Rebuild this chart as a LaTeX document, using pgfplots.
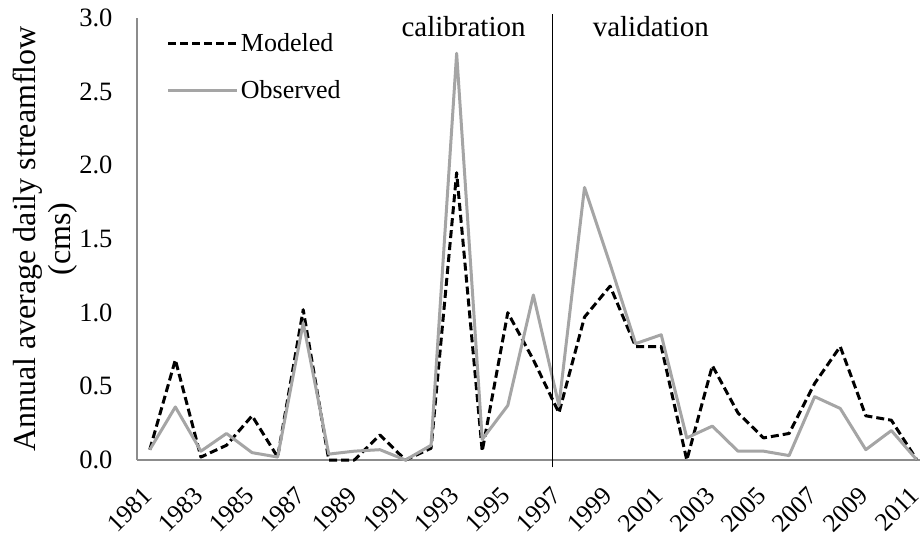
\documentclass[border=0pt]{standalone}
\usepackage{fontspec}
\setmainfont{Liberation Serif}
\usepackage{pgfplots}
\usepackage{pgfplotstable}
\pgfplotsset{compat=1.18}
\definecolor{obsgray}{RGB}{165,165,165}
\definecolor{axgray}{RGB}{140,140,140}
\pgfplotstableread{
year mod obs
1981 0.07 0.07
1982 0.68 0.36
1983 0.02 0.06
1984 0.10 0.18
1985 0.30 0.05
1986 0.02 0.02
1987 1.02 0.93
1988 0.00 0.04
1989 0.00 0.06
1990 0.17 0.07
1991 0.00 0.00
1992 0.08 0.10
1993 1.95 2.76
1994 0.06 0.14
1995 1.00 0.37
1996 0.68 1.12
1997 0.32 0.37
1998 0.97 1.85
1999 1.18 1.33
2000 0.77 0.79
2001 0.77 0.85
2002 0.00 0.15
2003 0.64 0.23
2004 0.32 0.06
2005 0.15 0.06
2006 0.18 0.03
2007 0.52 0.43
2008 0.77 0.35
2009 0.30 0.07
2010 0.27 0.20
2011 0.00 0.00
}\datatable
\begin{document}
\begin{tikzpicture}
\begin{axis}[
  scale only axis, width=783pt, height=442pt,
  xmin=1980.5, xmax=2011.12, ymin=0, ymax=3,
  clip=false,
  axis x line*=bottom, axis y line*=left,
  axis line style={axgray, line width=1.5pt},
  major tick length=0pt,
  xtick={1981,1983,1985,1987,1989,1991,1993,1995,1997,1999,2001,2003,2005,2007,2009,2011},
  xticklabels={1981,1983,1985,1987,1989,1991,1993,1995,1997,1999,2001,2003,2005,2007,2009,2011},
  ytick={0,0.5,1,1.5,2,2.5,3},
  yticklabels={0.0,0.5,1.0,1.5,2.0,2.5,3.0},
  xticklabel style={xshift=-2pt, yshift=-31pt, rotate=45, anchor=east, inner sep=0pt, font=\fontsize{25.5}{30}\selectfont},
  yticklabel style={xshift=-21pt, font=\fontsize{26.5}{30}\selectfont},
  ylabel={Annual average daily streamflow\\(cms)},
  ylabel style={at={(axis description cs:-0.0766,0.5)}, anchor=south, align=center, inner sep=0pt, font=\fontsize{32}{35}\selectfont},
  legend style={at={(0.038,0.969)}, anchor=north west, draw=none, fill=none, inner sep=0pt, row sep=23pt, font=\fontsize{26}{30}\selectfont},
  legend cell align=left,
  legend image code/.code={\draw[#1] (0pt,0pt) -- (69pt,0pt);},
]
\addplot[black, line width=3pt, dash pattern=on 8pt off 4pt, line join=round] table[x=year, y=mod] {\datatable};
\addlegendentry{Modeled}
\addplot[obsgray, line width=3pt, line join=round] table[x=year, y=obs] {\datatable};
\addlegendentry{Observed}
\addplot[black, line width=1.3pt, forget plot] coordinates {(1996.75,-0.05) (1996.75,3.03)};
\node[anchor=base, font=\fontsize{29}{30}\selectfont] at (axis cs:1993.27,2.872) {calibration};
\node[anchor=base, font=\fontsize{29}{30}\selectfont] at (axis cs:2000.59,2.872) {validation};
\end{axis}
\pgfresetboundingbox
\path (-137pt,-73pt) rectangle (783pt,460pt);
\end{tikzpicture}
\end{document}
